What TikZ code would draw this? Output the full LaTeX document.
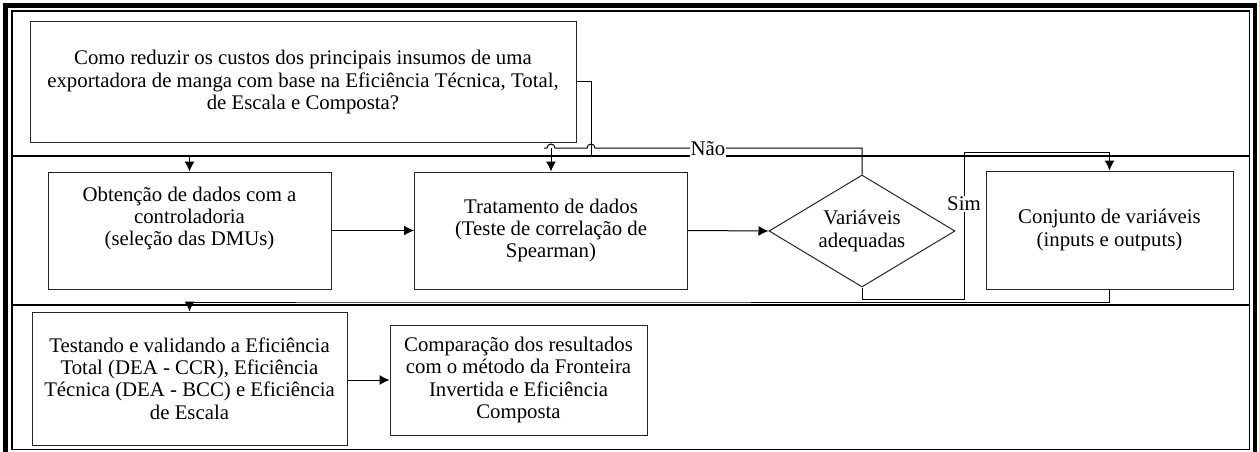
\documentclass[tikz,border=0pt]{standalone}
\usepackage{fontspec}
\setmainfont{Liberation Serif}
\usetikzlibrary{shapes.geometric,arrows.meta}
\tikzset{>={Latex[length=10pt,width=10pt]}}
\tikzset{caixa/.style={draw=black!85, line width=1pt, align=center, inner sep=0pt, font=\fontsize{20.8}{22.3}\selectfont}}
\tikzset{decisao/.style={caixa, diamond, aspect=1.66}}
\tikzset{rotulo/.style={fill=white, inner sep=1pt, font=\fontsize{20.8}{22.3}\selectfont}}

\begin{document}
\begin{tikzpicture}[x=1pt, y=-1pt, line width=1pt]
	\useasboundingbox (0,0) rectangle (1259,452);
	\draw [line width=4.5pt] (5.5,5.5) rectangle (1255,456);
	\draw [line width=1.2pt] (12,11) rectangle (1249.5,449.5);
	% raias
	\coordinate (raia1e) at (12,156);
	\coordinate (raia1d) at (1249.5,156);
	\coordinate (raia2e) at (12,305);
	\coordinate (raia2d) at (1249.5,305);
	\coordinate (topo) at (862,148);
	\draw [line width=1.5pt] (raia1e) -- (raia1d);
	\draw [line width=1.5pt] (raia2e) -- (raia2d);
	% etapas
	\node [caixa, minimum width=546pt, minimum height=120pt] (q) at (303,82) {Como reduzir os custos dos principais insumos de uma\\exportadora de manga com base na Eficiência Técnica, Total,\\de Escala e Composta?};
	\node [caixa, minimum width=283pt, minimum height=117pt] (obt) at (189.5,230.5) {Obtenção de dados com a\\controladoria\\(seleção das DMUs)\\[6pt]\mbox{}};
	\node [caixa, minimum width=273pt, minimum height=117pt] (trat) at (551,230.5) {Tratamento de dados\\(Teste de correlação de\\Spearman)};
	\node [decisao, minimum width=186pt, minimum height=112pt] (var) at (862,231) {Variáveis\\adequadas};
	\node [caixa, minimum width=247pt, minimum height=118pt] (conj) at (1109.5,230) {Conjunto de variáveis\\(inputs e outputs)};
	\node [caixa, minimum width=315pt, minimum height=133pt] (test) at (189.5,378.5) {Testando e validando a Eficiência\\Total (DEA - CCR), Eficiência\\Técnica (DEA - BCC) e Eficiência\\de Escala};
	\node [caixa, minimum width=257pt, minimum height=110pt] (comp) at (518.5,380) {Comparação dos resultados\\com o método da Fronteira\\Invertida e Eficiência\\Composta};
	% ligacoes
	\draw [->] (obt.north |- raia1e) -- (obt.north);
	\draw [->] (obt.east) -- (trat.west);
	\draw [->] (trat.east) -- (var.west);
	\draw (q.east) -| (591,156) -- (trat.north |- raia1e);
	\draw (var.north) |- (595,148) arc [start angle=0, end angle=180, radius=4pt] -- (555,148) arc [start angle=0, end angle=180, radius=4pt] -- (544,148);
	\draw [->] (trat.north |- topo) -- (trat.north);
	\node [rotulo] (nao) at (708,149) {Não};
	\draw [->] (var.south) |- (964,299) -- (964,152) -| (conj.north);
	\node [rotulo] (sim) at (964,204) {Sim};
	\draw [->] (conj.south) |- (400,302) -| (test.north);
	\draw [->] (test.east |- comp.west) -- (comp.west);
\end{tikzpicture}
\end{document}
